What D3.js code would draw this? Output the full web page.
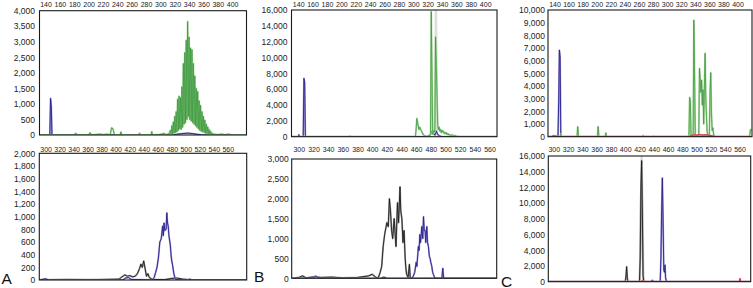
<!DOCTYPE html>
<html>
<head>
<meta charset="utf-8">
<script src="https://cdn.jsdelivr.net/npm/d3@7"></script>
<style>
body { margin: 0; background: #fff; }
svg { display: block; font-family: "Liberation Sans", Arial, sans-serif; }
</style>
</head>
<body>
<svg id="fig" width="753" height="288"></svg>
<script>
// tick labels
const topTicks = [140, 160, 180, 200, 220, 240, 260, 280, 300, 320, 340, 360, 380, 400];
const bottomTicks = [300, 320, 340, 360, 380, 400, 420, 440, 460, 480, 500, 520, 540, 560];
const yTicksA1 = [0, 500, 1000, 1500, 2000, 2500, 3000, 3500, 4000];
const yTicksA2 = [0, 200, 400, 600, 800, 1000, 1200, 1400, 1600, 1800, 2000];
const yTicksB1 = [0, 2000, 4000, 6000, 8000, 10000, 12000, 14000, 16000];
const yTicksB2 = [0, 500, 1000, 1500, 2000, 2500, 3000];
const yTicksC1 = [0, 1000, 2000, 3000, 4000, 5000, 6000, 7000, 8000, 9000, 10000];
const yTicksC2 = [0, 2000, 4000, 6000, 8000, 10000, 12000, 14000, 16000];
const panelLetters = ["A", "B", "C"];

// panel A, top
const aTopBlue = [[132,0],[146,0],[147,1180],[148,930],[149,0],[318,0],[325,30],[330,45],[338,60],[345,45],[352,20],[358,0],[419,0]];
const aTopGreen = [[132,0],[180,0],[182,60],[184,0],[200,0],[202,70],[204,0],[212,20],[216,30],[220,10],[226,30],[230,0],
  [232,230],[234,200],[236,0],[244,0],[245,100],[246,0],[270,0],[271,60],[272,0],[287,0],[288,110],[289,0],
  [300,20],[305,50],[308,10],[312,40],
  [314,150],[315,20],[316,300],[317,40],[318,420],[319,60],[320,600],[321,80],[322,750],[323,100],[324,1150],[325,150],
  [326,1250],[327,200],[328,1200],[329,180],[330,1550],[331,250],[332,2300],[333,350],[334,2650],[335,400],[336,3050],[337,500],
  [338,3650],[339,600],[340,3150],[341,500],[342,2800],[343,450],[344,2750],[345,400],[346,2300],[347,350],[348,1900],[349,300],
  [350,1500],[351,250],[352,1400],[353,200],[354,1100],[355,150],[356,950],[357,120],[358,750],[359,100],[360,600],[361,80],
  [362,480],[363,60],[364,350],[365,40],[366,260],[367,30],[368,180],[369,20],[370,120],[371,15],[372,60],[373,10],[374,30],
  [380,10],[385,30],[390,10],[395,30],[400,0],[419,0]];

// panel A, bottom
const aBottomBlack = [[292,0],[330,8],[360,5],[390,10],[405,15],[409,50],[413,80],[417,60],[420,70],[424,50],[428,60],[431,100],
  [434,180],[436,250],[438,200],[440,300],[442,180],[444,60],[446,100],[448,40],[452,10],[470,5],[480,25],[488,30],[495,15],[510,0],[586,0]];
const aBottomBlue = [[292,0],[300,20],[304,0],[410,0],[414,30],[418,40],[422,10],[452,0],[455,40],[457,120],[459,200],[461,350],
  [463,600],[465,650],[467,850],[468,700],[469,900],[470,780],[472,800],[473,1060],[474,900],[475,850],[476,700],[478,550],
  [479,400],[480,300],[481,250],[483,100],[485,20],[488,0],[504,0],[506,15],[508,0],[586,0]];

// panel B, top
const bTopBlue = [[131,0],[140,0],[141,250],[142,0],[147,0],[148,7370],[149,6820],[150,0],[320,0],[324,300],[326,700],[328,400],
  [330,200],[332,700],[334,300],[336,100],[340,0],[416,0]];
const bTopGreen = [[131,0],[210,0],[212,60],[214,0],[303,0],[304,1000],[305,2300],[306,1800],[307,1300],[308,900],[309,1200],
  [310,1000],[312,600],[314,250],[316,100],[318,30],[320,80],[322,150],[323,50],[324,400],[325,15800],[326,8000],[327,300],
  [328,500],[329,800],[330,600],[331,12600],[332,9000],[333,5200],[334,1500],[335,900],[336,1200],[337,700],[338,900],[339,500],
  [340,800],[341,600],[342,700],[343,400],[344,550],[345,350],[346,500],[347,300],[348,400],[349,200],[350,300],[352,150],
  [354,250],[356,100],[358,150],[360,60],[362,30],[364,0],[416,0]];
const bTopGhost = [[330,0],[331.5,16000],[333,0]];

// panel B, bottom
const bBottomBlack = [[291,0],[300,20],[305,60],[310,10],[322,40],[330,20],[345,30],[360,10],[380,20],[395,60],[400,100],[404,40],
  [408,0],[411,150],[413,300],[415,800],[417,1100],[420,1400],[422,1300],[423.5,2000],[425,1700],[426.5,1200],[428,1000],
  [430,1500],[431,1200],[432.5,800],[434.5,1900],[436,1400],[438,2300],[439,1700],[440.5,1500],[442,900],[443.5,1200],
  [445,500],[446,250],[447,100],[449,20],[450.8,350],[452,0],[569,0]];
const bBottomBlue = [[291,0],[320,0],[323,60],[326,0],[412,0],[416,30],[420,0],[454,0],[456,50],[458,150],[460,400],[461,300],
  [463,800],[464,700],[465,1100],[466,900],[467.7,1300],[469,1000],[470,1550],[471,1200],[472.2,1200],[473,900],[474.5,1300],
  [475.5,900],[476.7,800],[478,550],[479,500],[480,400],[481.3,300],[482.5,150],[483.5,100],[485,20],[487,0],[495,0],
  [496.3,250],[497.5,0],[569,0]];

// panel C, top
const cTopBlue = [[131,0],[136,0],[138,80],[142,60],[145,0],[146,2760],[147,6840],[148,6300],[149,0],[420,0]];
const cTopGreen = [[131,0],[148,0],[149,200],[150,0],[172,0],[173,790],[174,100],[175,0],[201,0],[202,800],[203,100],[204,0],
  [212,0],[213,300],[214,0],[265,0],[266,100],[267,0],[280,0],[281,50],[282,0],[331,0],[332,3100],[333,2800],[334,0],
  [337,0],[338,9200],[339,5000],[340,0],[345,0],[346,5400],[347,4600],[348,3500],[349,4470],[350,2500],[351,3700],
  [352,1000],[353,4000],[354,6580],[355,3000],[356,1500],[357,300],[360,0],[361,3500],[362,5050],[363,1900],[364,500],
  [365,700],[366,200],[368,0],[417,0],[418.5,550],[420,550]];
const cTopRed = [[131,0],[331,0],[335,100],[338,150],[342,120],[346,160],[350,130],[355,150],[360,100],[365,60],[368,0],[420,0]];

// panel C, bottom
const cBottomBlack = [[292,0],[400,0],[401,600],[402,1910],[403,400],[404,0],[420,0],[421,3000],[422,12000],[423,15400],
  [424,9000],[425,800],[426,0],[576,0]];
const cBottomGhost = [[420.5,0],[423,16000],[425.5,0]];
const cBottomBlue = [[292,0],[436,0],[438,200],[440,0],[449,0],[450,3000],[451,9000],[452,13200],[453,8000],[454,1500],
  [455,1200],[455.7,2125],[456.5,500],[458,0],[576,0]];
const cBottomRed = [[292,0],[423,0],[424,150],[425,0],[560,0],[560.7,400],[561.4,0],[576,0]];

const colors = {
  blue:  { dark: "#28208c", light: "#a29dd6", width: 0.9 },
  green: { dark: "#35933a", light: "#a8d99a", width: 0.7 },
  black: { dark: "#1c1c1c", light: "#a0a0a0", width: 0.9 },
  red:   { dark: "#c4262a", light: "#e48a8a", width: 0.9 },
  ghost: { dark: null,      light: "#dedede", width: 0 }
};

class SpectrumPanel {

    constructor( config, series ) {
        this.config = {
            parent: config.parent,
            left: config.left,
            top: config.top,
            width: config.width,
            height: config.height,
            xdomain: config.xdomain,
            xticks: config.xticks,
            yticks: config.yticks,
            xpad: config.xpad || 4,
            ypad: config.ypad || 4,
            id: config.id
        }
        this.series = series;
        this.init();
    }

    init() {
        let self = this;
        const c = self.config;

        self.chart = d3.select( c.parent ).append('g')
            .attr('transform', `translate(${c.left}, ${c.top})`);

        self.xscale = d3.scaleLinear()
            .domain( c.xdomain )
            .range( [0, c.width] );

        self.yscale = d3.scaleLinear()
            .domain( [0, d3.max(c.yticks)] )
            .range( [c.height, 0] );

        self.xaxis = d3.axisTop( self.xscale )
            .tickValues( c.xticks )
            .tickSize(0)
            .tickPadding( c.xpad );

        self.yaxis = d3.axisLeft( self.yscale )
            .tickValues( c.yticks )
            .tickSize(0)
            .tickPadding( c.ypad )
            .tickFormat( d3.format(',') );

        self.line = d3.line()
            .x( d => self.xscale( d[0] ) )
            .y( d => self.yscale( d[1] ) );
    }

    render() {
        let self = this;
        const c = self.config;

        self.chart.append('clipPath')
            .attr('id', 'clip-' + c.id)
            .append('rect')
            .attr('width', c.width)
            .attr('height', c.height);

        const plot = self.chart.append('g')
            .attr('clip-path', `url(#clip-${c.id})`);

        // light halo first, then the dark trace on top
        self.series.forEach( s => {
            plot.append('path')
                .datum( s.data )
                .attr('d', self.line)
                .attr('fill', 'none')
                .attr('stroke', colors[s.color].light)
                .attr('stroke-width', s.color == 'ghost' ? 2.5 : 1.8)
                .attr('stroke-linejoin', 'round');
            if ( colors[s.color].dark ) {
                plot.append('path')
                    .datum( s.data )
                    .attr('d', self.line)
                    .attr('fill', 'none')
                    .attr('stroke', colors[s.color].dark)
                    .attr('stroke-width', colors[s.color].width)
                    .attr('stroke-linejoin', 'round');
            }
        });

        self.chart.append('rect')
            .attr('width', c.width)
            .attr('height', c.height)
            .attr('fill', 'none')
            .attr('stroke', '#1a1a1a')
            .attr('stroke-width', 1.1);

        self.chart.append('g')
            .call( self.xaxis )
            .call( g => g.select('.domain').remove() )
            .selectAll('text')
            .attr('font-size', 7)
            .attr('fill', '#222');

        self.chart.append('g')
            .call( self.yaxis )
            .call( g => g.select('.domain').remove() )
            .selectAll('text')
            .attr('font-size', 8.5)
            .attr('fill', '#222');
    }
}

const svg = d3.select('#fig');

const panels = [
    new SpectrumPanel( {parent: '#fig', id: 'a1', left: 39.5, top: 10.7, width: 207, height: 124.3,
        xdomain: [131.6, 420], xticks: topTicks, yticks: yTicksA1, xpad: 4, ypad: 4.5},
        [{data: aTopBlue, color: 'blue'}, {data: aTopGreen, color: 'green'}] ),
    new SpectrumPanel( {parent: '#fig', id: 'a2', left: 39.3, top: 153.3, width: 207.4, height: 126.7,
        xdomain: [291, 587], xticks: bottomTicks, yticks: yTicksA2, xpad: 1.8, ypad: 4},
        [{data: aBottomBlack, color: 'black'}, {data: aBottomBlue, color: 'blue'}] ),
    new SpectrumPanel( {parent: '#fig', id: 'b1', left: 291.5, top: 10, width: 205.5, height: 126.7,
        xdomain: [130.7, 416.4], xticks: topTicks, yticks: yTicksB1, xpad: 3.5, ypad: 4},
        [{data: bTopGhost, color: 'ghost'}, {data: bTopBlue, color: 'blue'}, {data: bTopGreen, color: 'green'}] ),
    new SpectrumPanel( {parent: '#fig', id: 'b2', left: 291.7, top: 159, width: 205, height: 119.3,
        xdomain: [290.3, 569.8], xticks: bottomTicks, yticks: yTicksB2, xpad: 7.3, ypad: 3},
        [{data: bBottomBlack, color: 'black'}, {data: bBottomBlue, color: 'blue'}] ),
    new SpectrumPanel( {parent: '#fig', id: 'c1', left: 548, top: 10, width: 204, height: 126.7,
        xdomain: [130.8, 420.6], xticks: topTicks, yticks: yTicksC1, xpad: 3.5, ypad: 3},
        [{data: cTopBlue, color: 'blue'}, {data: cTopGreen, color: 'green'}, {data: cTopRed, color: 'red'}] ),
    new SpectrumPanel( {parent: '#fig', id: 'c2', left: 548.3, top: 156, width: 202.4, height: 125.7,
        xdomain: [292.3, 575.7], xticks: bottomTicks, yticks: yTicksC2, xpad: 4.3, ypad: 3.3},
        [{data: cBottomGhost, color: 'ghost'}, {data: cBottomBlack, color: 'black'}, {data: cBottomBlue, color: 'blue'}, {data: cBottomRed, color: 'red'}] )
];

panels.forEach( p => p.render() );

// panel letters
svg.selectAll('text.letter')
    .data( panelLetters )
    .enter()
    .append('text')
    .attr('class', 'letter')
    .attr('x', (d, i) => [1.5, 254, 501][i])
    .attr('y', (d, i) => [283.5, 282, 286.5][i])
    .attr('font-size', 15.5)
    .attr('fill', '#111')
    .text( d => d );
</script>
</body>
</html>
